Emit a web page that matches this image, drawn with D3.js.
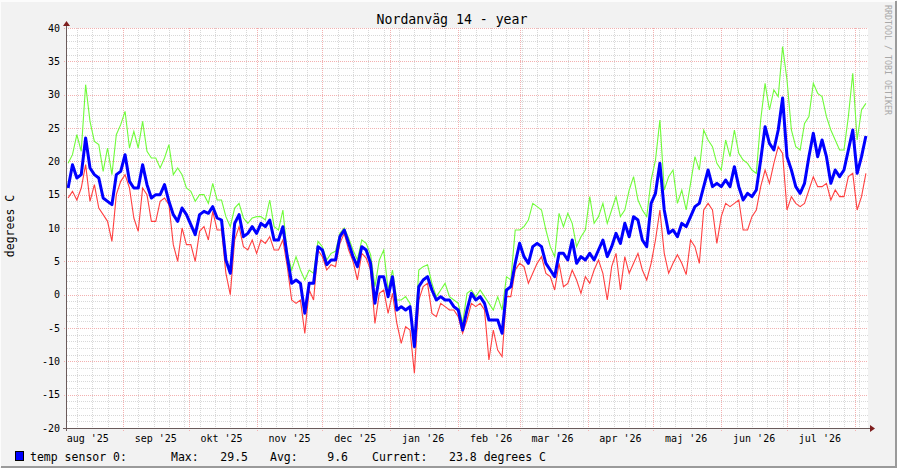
<!DOCTYPE html>
<html>
<head>
<meta charset="utf-8">
<script src="https://cdn.jsdelivr.net/npm/d3@7"></script>
<style>
  html, body { margin: 0; padding: 0; background: #f2f2f2; }
  svg { display: block; font-family: "DejaVu Sans Mono", monospace; }
</style>
</head>
<body>
<svg id="chart" width="897" height="468"></svg>
<script>
// Chart data (one sample every 2 days from 7 aug 2025)
const TITLE = 'Nordanväg 14 - year';
const Y_LABEL = 'degrees C';
const WATERMARK = 'RRDTOOL / TOBI OETIKER';
const START = new Date(2025, 7, 7);
const STEP_DAYS = 2;
const DOMAIN = [new Date(2025, 7, 6, 12), new Date(2026, 7, 6, 12)];

const maxTemp = [
  19.7, 21.0, 24.0, 21.5, 31.5, 26.0, 23.0, 22.5, 18.5, 22.0,
  18.0, 24.0, 25.5, 27.5, 22.0, 24.5, 22.0, 26.0, 21.5, 20.5,
  20.5, 19.0, 20.5, 22.5, 18.0, 19.0, 18.0, 16.0, 15.5, 14.0,
  15.0, 15.0, 13.7, 16.7, 14.2, 14.2, 11.7, 10.2, 13.0, 13.7,
  11.5, 10.7, 11.5, 11.7, 11.7, 11.2, 14.2, 10.2, 9.7, 12.7,
  6.2, 3.7, 5.7, 3.7, 2.2, 3.7, 3.2, 8.0, 7.2, 5.2,
  6.2, 6.5, 9.2, 10.0, 8.5, 6.7, 5.2, 8.2, 7.7, 6.0,
  1.2, 5.2, 6.7, 0.7, 3.7, -0.8, -0.8, -0.3, -1.3, -7.3,
  3.7, 4.2, 4.5, 1.7, -0.3, 0.7, 1.7, -0.3, -0.8, -1.3,
  -4.3, 0.2, 0.7, -0.3, 0.7, -0.3, -1.3, -2.3, -0.3, -2.3,
  2.7, 2.2, 9.7, 9.7, 10.2, 11.2, 13.7, 13.2, 12.7, 9.7,
  7.2, 5.7, 12.2, 10.2, 12.2, 10.7, 7.2, 8.7, 9.7, 14.7,
  10.7, 11.7, 13.7, 10.7, 12.7, 14.7, 11.7, 12.7, 15.7, 17.7,
  14.2, 12.7, 11.7, 17.2, 20.2, 26.2, 15.7, 17.7, 18.7, 13.7,
  15.7, 12.7, 16.7, 20.7, 18.7, 24.7, 23.2, 22.2, 19.7, 18.7,
  23.2, 20.7, 24.7, 21.2, 20.2, 19.7, 18.7, 18.2, 26.2, 31.7,
  27.7, 30.7, 29.7, 37.2, 32.2, 24.7, 22.2, 21.7, 25.7, 26.7,
  31.7, 30.2, 29.7, 26.7, 24.7, 23.2, 21.7, 21.7, 26.7, 33.2,
  23.2, 27.7, 28.7
];

const minTemp = [
  14.5, 15.5, 14.2, 16.0, 19.5, 14.0, 16.5, 13.0, 12.0, 11.0,
  8.0, 15.0, 17.0, 18.0, 16.0, 11.5, 9.5, 16.0, 15.0, 11.0,
  11.0, 14.0, 14.5, 13.5, 7.5, 5.0, 10.0, 7.5, 7.5, 5.0,
  9.5, 10.2, 8.2, 12.5, 9.7, 9.7, 3.2, 0.0, 8.2, 10.2,
  7.2, 6.7, 8.2, 6.2, 8.2, 7.7, 8.7, 6.7, 6.7, 8.2,
  4.2, -0.8, -1.3, -0.8, -5.8, 0.7, -0.8, 6.7, 5.7, 3.7,
  4.5, 4.2, 7.7, 9.2, 6.7, 5.0, 2.2, 6.2, 5.5, 3.7,
  -4.3, 0.2, 0.7, -2.8, 0.2, -4.3, -7.3, -4.8, -5.3, -11.8,
  -0.8, 1.2, 1.7, -2.8, -3.3, -1.3, -1.8, -2.3, -2.3, -3.3,
  -5.8, -3.8, -1.3, -1.8, -1.3, -2.3, -9.8, -5.3, -8.3, -9.3,
  -0.3, -0.3, 3.7, 4.7, 4.2, 1.7, 3.2, 4.7, 5.7, 3.2,
  2.7, 0.7, 4.7, 1.2, 1.7, 3.7, 2.2, 0.2, 2.7, 1.7,
  3.7, 5.2, 3.2, -0.8, 4.2, 6.2, 0.7, 5.7, 3.2, 4.7,
  6.2, 3.7, 2.2, 4.7, 8.2, 12.7, 6.2, 3.2, 4.7, 6.0,
  4.7, 3.0, 8.2, 7.2, 4.7, 12.7, 13.7, 12.7, 7.7, 11.7,
  13.7, 13.2, 13.7, 14.2, 9.7, 9.7, 11.7, 12.7, 16.2, 18.7,
  16.7, 19.7, 22.2, 21.2, 12.7, 14.7, 13.7, 13.2, 13.7, 15.7,
  17.7, 16.2, 16.2, 16.7, 14.2, 15.7, 14.7, 14.7, 17.7, 18.2,
  12.7, 14.7, 18.2
];

const avgTemp = [
  16.0, 19.5, 17.5, 18.0, 23.5, 19.0, 18.0, 17.5, 14.5, 14.0,
  13.5, 18.0, 18.5, 21.0, 17.0, 16.0, 16.0, 19.5, 16.5, 14.5,
  15.0, 15.0, 16.5, 14.0, 12.0, 11.0, 13.0, 12.0, 10.5, 9.0,
  12.0, 12.5, 12.2, 13.2, 11.5, 11.2, 5.2, 3.2, 10.7, 12.0,
  8.7, 9.2, 10.2, 9.2, 10.7, 10.2, 11.2, 8.2, 8.2, 10.2,
  5.7, 1.7, 2.2, 1.7, -2.8, 1.7, 1.7, 7.2, 6.7, 4.5,
  5.2, 5.2, 8.7, 9.7, 7.7, 5.7, 4.2, 7.2, 6.7, 4.7,
  -1.3, 2.7, 2.7, -0.3, 2.7, -2.3, -1.8, -2.3, -1.8, -7.8,
  1.2, 2.2, 2.7, 0.7, -0.8, -0.3, -0.8, -0.8, -1.8, -2.3,
  -5.3, -2.3, 0.2, -0.8, -0.3, -1.3, -3.8, -3.8, -3.8, -5.8,
  0.7, 1.2, 4.7, 7.7, 5.7, 4.7, 7.2, 7.7, 7.2, 4.7,
  3.7, 2.7, 6.2, 6.2, 5.2, 8.2, 4.7, 5.7, 5.2, 6.2,
  5.2, 6.7, 8.2, 5.7, 7.2, 9.2, 7.7, 10.7, 8.7, 11.7,
  11.2, 8.2, 7.2, 13.7, 15.2, 19.7, 12.7, 9.2, 9.7, 8.7,
  10.7, 10.2, 11.7, 13.2, 13.7, 16.2, 18.7, 16.2, 16.7, 16.2,
  17.2, 16.2, 19.2, 16.2, 14.2, 15.2, 14.7, 15.7, 20.2, 25.2,
  22.7, 21.7, 24.7, 29.5, 20.7, 18.7, 16.2, 15.2, 16.7, 20.7,
  24.2, 20.7, 23.2, 20.7, 16.7, 18.7, 17.7, 18.7, 21.7, 24.7,
  18.2, 20.7, 23.8
];

const yTicks = [-20, -15, -10, -5, 0, 5, 10, 15, 20, 25, 30, 35, 40];
const shortMonths = ['jan', 'feb', 'mar', 'apr', 'maj', 'jun', 'jul', 'aug', 'sep', 'okt', 'nov', 'dec'];
const legendName = 'temp sensor 0:';
const statLabels = ['Max:', 'Avg:', 'Current:'];
const statValues = ['29.5', '9.6', '23.8 degrees C'];

(function() {
  const W = 897, H = 468;
  const left = 67, right = 867, top = 28, bottom = 428;

  const svg = d3.select('#chart');

  const sv = d3.timeFormatLocale({
    dateTime: '%A %e %B %Y kl. %X', date: '%Y-%m-%d', time: '%H:%M:%S',
    periods: ['fm', 'em'],
    days: ['söndag', 'måndag', 'tisdag', 'onsdag', 'torsdag', 'fredag', 'lördag'],
    shortDays: ['sön', 'mån', 'tis', 'ons', 'tor', 'fre', 'lör'],
    months: ['januari', 'februari', 'mars', 'april', 'maj', 'juni', 'juli', 'augusti', 'september', 'oktober', 'november', 'december'],
    shortMonths: shortMonths
  });
  const fmtMonth = sv.format("%b '%y");

  const x = d3.scaleTime().domain(DOMAIN).range([left, right]);
  const y = d3.scaleLinear().domain([-20, 40]).range([bottom, top]);
  const px = v => Math.round(v) + 0.5;

  // background + 3d frame
  svg.append('rect').attr('width', W).attr('height', H).attr('fill', '#f2f2f2');
  svg.append('path').attr('d', `M0,${H - 1}V1H${W - 1}`)
    .attr('fill', 'none').attr('stroke', '#fcfcfc').attr('stroke-width', 2);
  svg.append('path').attr('d', `M1,${H - 1}H${W - 1}V1`)
    .attr('fill', 'none').attr('stroke', '#9a9a9a').attr('stroke-width', 2);

  svg.append('rect')
    .attr('x', left).attr('y', top)
    .attr('width', right - left + 1).attr('height', bottom - top)
    .attr('fill', '#ffffff');

  const grid = svg.append('g').attr('shape-rendering', 'crispEdges');

  // minor grid: every degree, every monday
  const minorY = d3.range(-20, 41).filter(v => v % 5 !== 0);
  grid.append('g').selectAll('line').data(minorY).join('line')
    .attr('x1', left).attr('x2', right + 1)
    .attr('y1', d => px(y(d))).attr('y2', d => px(y(d)))
    .attr('stroke', '#d8d8d8').attr('stroke-dasharray', '1,1');

  const mondays = d3.timeMonday.range(DOMAIN[0], DOMAIN[1]);
  grid.append('g').selectAll('line').data(mondays).join('line')
    .attr('x1', d => px(x(d))).attr('x2', d => px(x(d)))
    .attr('y1', top).attr('y2', bottom)
    .attr('stroke', '#d8d8d8').attr('stroke-dasharray', '1,1');

  // major grid: every 5 degrees, every month
  grid.append('g').selectAll('line').data(yTicks).join('line')
    .attr('x1', left - 3).attr('x2', right + 1)
    .attr('y1', d => px(y(d))).attr('y2', d => px(y(d)))
    .attr('stroke', '#f3b0b0').attr('stroke-dasharray', '1,1');

  const months = d3.timeMonth.range(DOMAIN[0], DOMAIN[1]);
  grid.append('g').selectAll('line').data(months).join('line')
    .attr('x1', d => px(x(d))).attr('x2', d => px(x(d)))
    .attr('y1', top).attr('y2', bottom + 4)
    .attr('stroke', '#f3b0b0').attr('stroke-dasharray', '1,1');

  // series
  const dates = avgTemp.map((_, i) => d3.timeDay.offset(START, i * STEP_DAYS));
  const line = d3.line()
    .x((d, i) => x(dates[i]))
    .y(d => y(d));

  svg.append('path').datum(maxTemp)
    .attr('d', line).attr('fill', 'none')
    .attr('stroke', '#70fb3a').attr('stroke-width', 1.1);
  svg.append('path').datum(minTemp)
    .attr('d', line).attr('fill', 'none')
    .attr('stroke', '#ff4040').attr('stroke-width', 1.1);
  svg.append('path').datum(avgTemp)
    .attr('d', line).attr('fill', 'none')
    .attr('stroke', '#0000ff').attr('stroke-width', 3)
    .attr('stroke-linejoin', 'round');

  // axes with arrows
  svg.append('line')
    .attr('x1', left - 0.5).attr('x2', left - 0.5)
    .attr('y1', bottom + 3).attr('y2', top - 4)
    .attr('stroke', '#6a5a5a').attr('shape-rendering', 'crispEdges');
  svg.append('line')
    .attr('x1', left - 4).attr('x2', right + 3)
    .attr('y1', bottom + 0.5).attr('y2', bottom + 0.5)
    .attr('stroke', '#6a5a5a').attr('shape-rendering', 'crispEdges');
  svg.append('path')
    .attr('d', `M${left - 0.5},${top - 7}L${left - 4},${top - 2}H${left + 3}Z`)
    .attr('fill', '#7f1f1f');
  svg.append('path')
    .attr('d', `M${right + 8},${bottom + 0.5}L${right + 3},${bottom - 3}V${bottom + 4}Z`)
    .attr('fill', '#7f1f1f');

  // y tick labels
  svg.append('g').selectAll('text').data(yTicks).join('text')
    .attr('x', left - 7).attr('y', d => y(d) + 3.5)
    .attr('text-anchor', 'end')
    .attr('font-size', 10).attr('fill', '#000')
    .text(d => d);

  // x labels centred in each month
  const labelMonths = d3.timeMonth.range(d3.timeMonth.floor(DOMAIN[0]), DOMAIN[1])
    .filter(d => d3.timeDay.offset(d, 15) >= DOMAIN[0] && d3.timeDay.offset(d, 15) <= DOMAIN[1]);
  svg.append('g').selectAll('text').data(labelMonths).join('text')
    .attr('x', d => x(d3.timeDay.offset(d, 15)))
    .attr('y', bottom + 14)
    .attr('text-anchor', 'middle')
    .attr('font-size', 10).attr('fill', '#000')
    .text(d => fmtMonth(d));

  // title, axis label, watermark
  svg.append('text')
    .attr('x', 452).attr('y', 23.5)
    .attr('text-anchor', 'middle')
    .attr('font-size', 13.2).attr('fill', '#000')
    .text(TITLE);

  svg.append('text')
    .attr('transform', 'translate(14,226) rotate(-90)')
    .attr('text-anchor', 'middle')
    .attr('font-size', 11.5).attr('fill', '#000')
    .text(Y_LABEL);

  svg.append('text')
    .attr('transform', 'translate(885,5) rotate(90)')
    .attr('font-size', 8.3).attr('fill', '#a8a8a8')
    .text(WATERMARK);

  // legend
  const lg = svg.append('g').attr('font-size', 11.5).attr('fill', '#000');
  lg.append('rect')
    .attr('x', 15.5).attr('y', 451.5).attr('width', 8).attr('height', 9)
    .attr('fill', '#0000ff').attr('stroke', '#000').attr('stroke-width', 1);
  lg.append('text').attr('x', 30).attr('y', 461).text(legendName);
  const labelX = [171, 270, 372];
  const valueX = [248, 348, 546];
  lg.selectAll('text.lab').data(statLabels).join('text')
    .attr('class', 'lab')
    .attr('x', (d, i) => labelX[i]).attr('y', 461)
    .text(d => d);
  lg.selectAll('text.val').data(statValues).join('text')
    .attr('class', 'val')
    .attr('x', (d, i) => valueX[i]).attr('y', 461)
    .attr('text-anchor', 'end')
    .text(d => d);
})();
</script>
</body>
</html>
